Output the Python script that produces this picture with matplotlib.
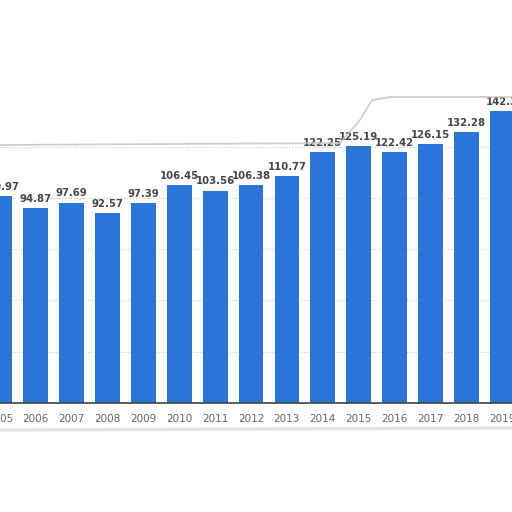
import numpy as np
import matplotlib
matplotlib.use("Agg")
import matplotlib.pyplot as plt

years = [2005, 2006, 2007, 2008, 2009, 2010, 2011, 2012, 2013, 2014, 2015, 2016, 2017, 2018, 2019]
values = [100.97, 94.87, 97.69, 92.57, 97.39, 106.45, 103.56, 106.38, 110.77,
          122.25, 125.19, 122.42, 126.15, 132.28, 142.3]
labels = ["100.97", "94.87", "97.69", "92.57", "97.39", "106.45", "103.56", "106.38", "110.77",
          "122.25", "125.19", "122.42", "126.15", "132.28", "142.3"]

fig = plt.figure(figsize=(5.12, 5.12), dpi=100)
ax = fig.add_axes([0, 109 / 512, 1, 403 / 512])

ax.bar(years, values, width=0.69, color="#2b74d8", zorder=3)

for y, v, t in zip(years, values, labels):
    ax.annotate(t, (y, v), xytext=(0, 3), textcoords="offset points",
                ha="center", va="bottom", fontsize=7.3, fontweight="bold",
                color="#454545", zorder=4)

ax.set_xlim(2005.124, 2019.276)
ax.set_ylim(0, 196.5)

for g in [25, 50, 75, 100, 125]:
    ax.axhline(g, color="#c8c8c8", linestyle=":", linewidth=0.8, zorder=1)

ax.set_yticks([])
ax.set_xticks(years)
ax.set_xticklabels([str(y) for y in years], fontsize=7.5, color="#666666")
ax.tick_params(axis="x", length=0, pad=8)
for s in ["top", "left", "right"]:
    ax.spines[s].set_visible(False)
ax.spines["bottom"].set_color("#444444")
ax.spines["bottom"].set_linewidth(1.2)
ax.spines["bottom"].set_zorder(5)

# faint torn-paper edge
edge_x = np.array([0, 340, 360, 372, 390, 512]) / 512
edge_y = 1 - np.array([145, 143, 120, 100, 97, 97]) / 512
fig.add_artist(plt.Line2D(edge_x, edge_y, color="#c4c4c4", linewidth=1.3, alpha=0.8))
low_x = np.array([0, 512]) / 512
low_y = 1 - np.array([430, 428]) / 512
fig.add_artist(plt.Line2D(low_x, low_y, color="#d5d5d5", linewidth=2.5, alpha=0.6))

fig.savefig("out.png", dpi=100)
